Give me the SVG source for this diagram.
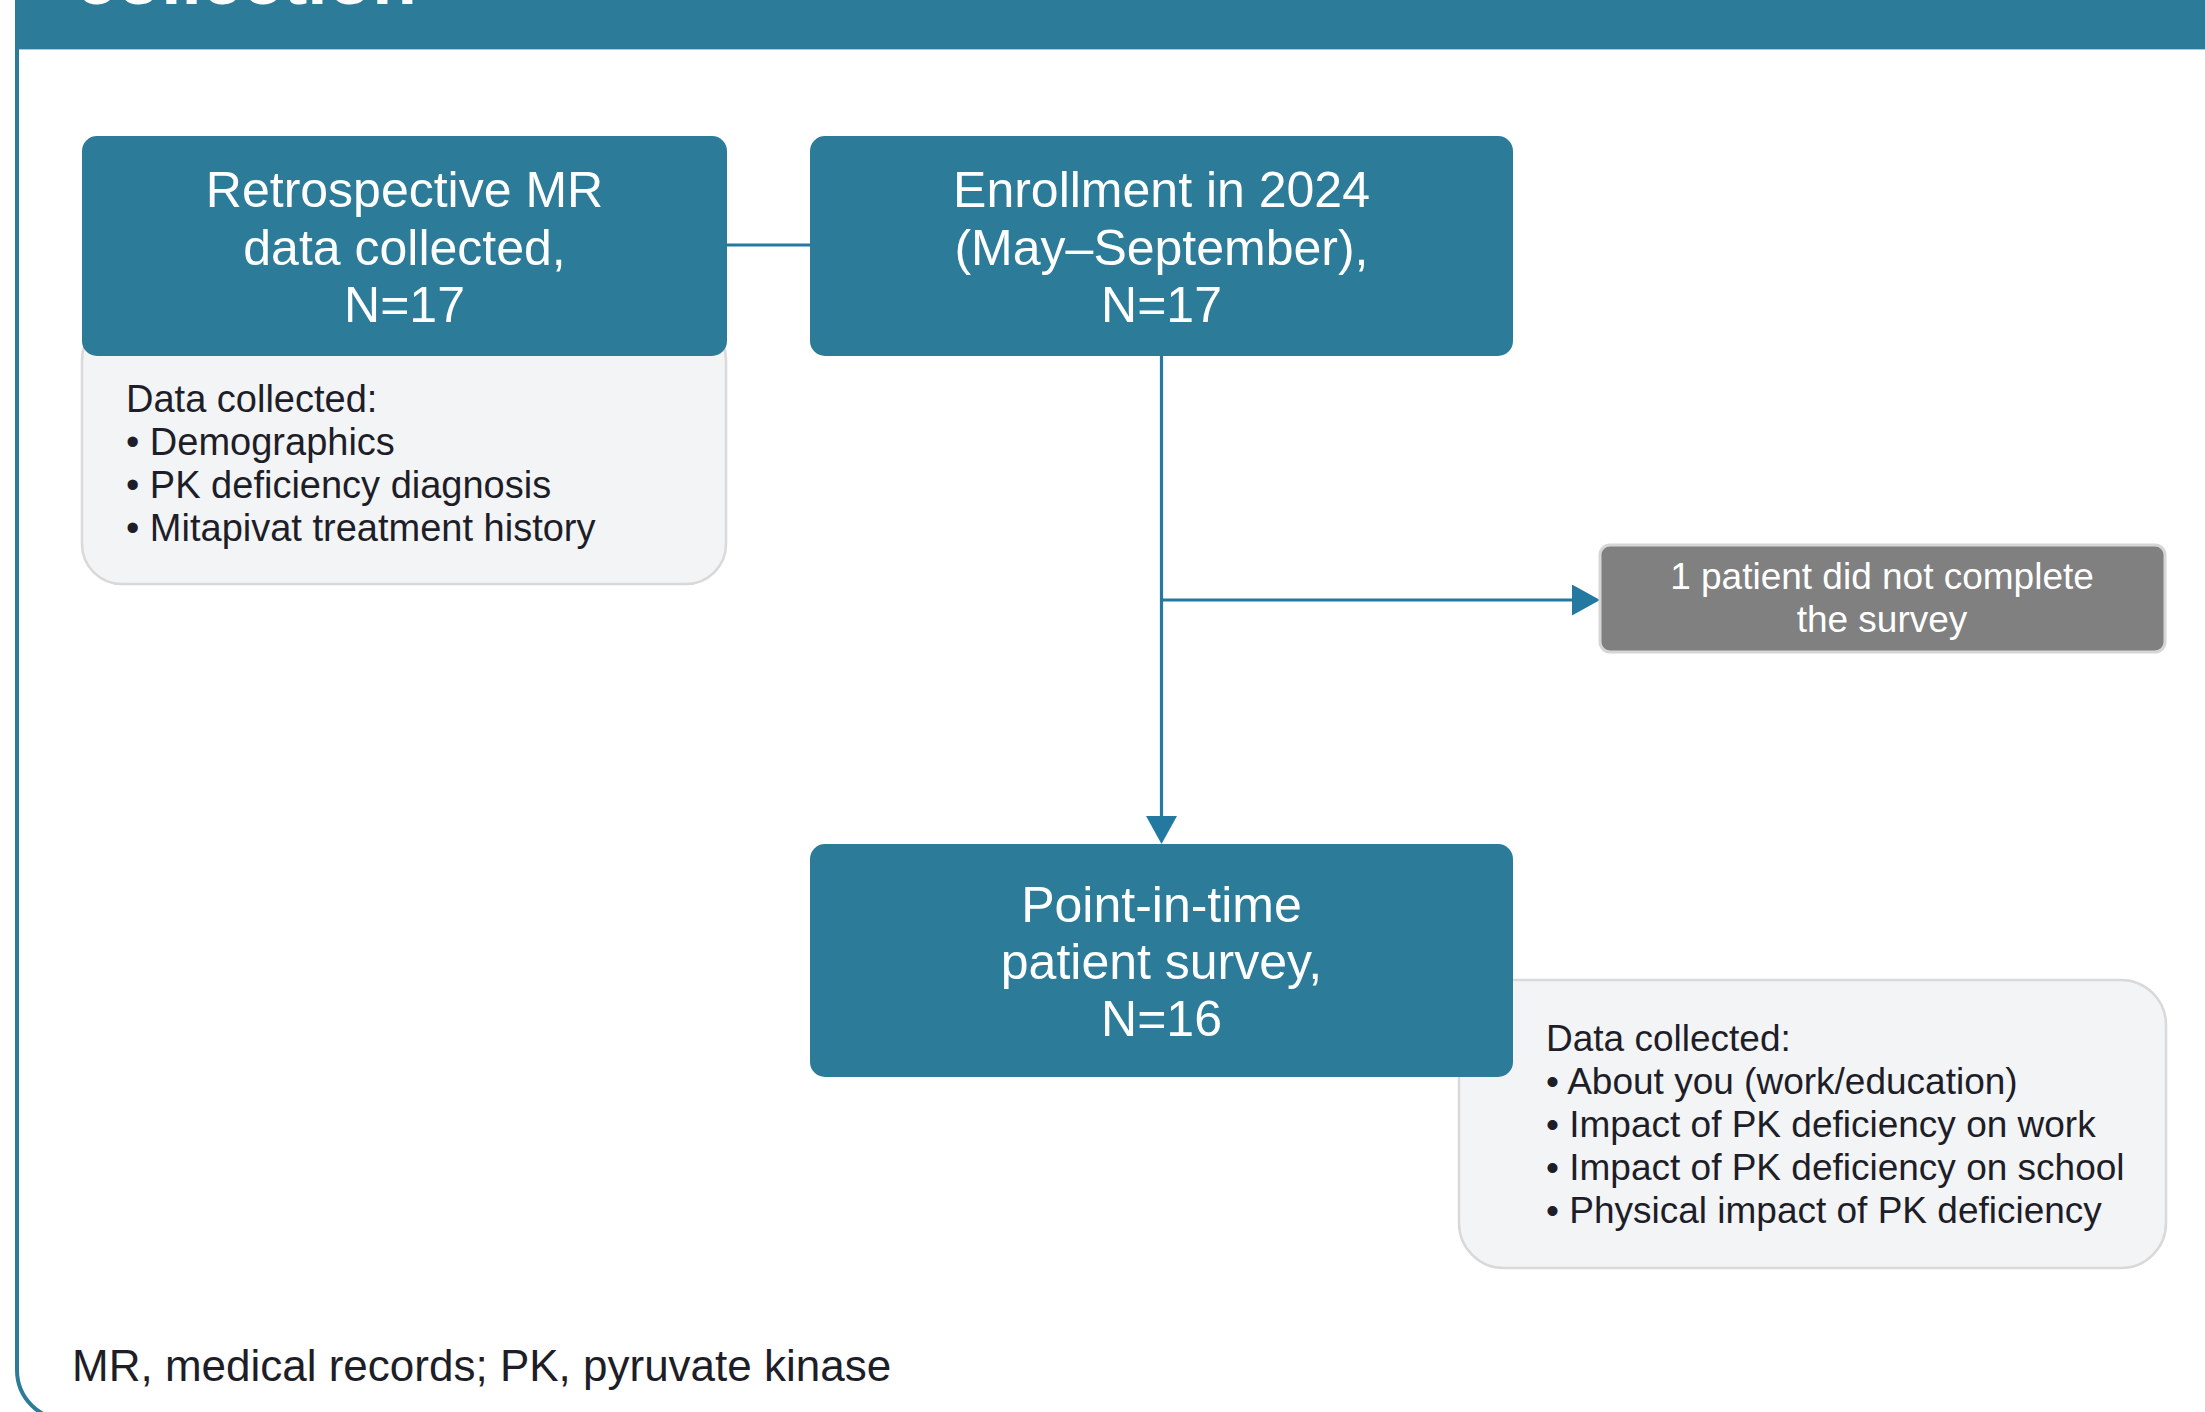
<svg xmlns="http://www.w3.org/2000/svg" width="2205" height="1412" viewBox="0 0 2205 1412">
  <style>
    .box { fill: #2b7b99; }
    .panel { fill: #f3f4f6; stroke: #d9d9d9; stroke-width: 2.5; }
    .gray { fill: #808080; stroke: #d6d6d6; stroke-width: 3; }
    .title { font-family: "Liberation Sans", Arial, sans-serif; font-size: 50px; fill: #ffffff; text-anchor: middle; }
    .gtext { font-family: "Liberation Sans", Arial, sans-serif; font-size: 37px; fill: #ffffff; text-anchor: middle; }
    .body { font-family: "Liberation Sans", Arial, sans-serif; font-size: 38px; fill: #1e1e28; }
    .body2 { font-family: "Liberation Sans", Arial, sans-serif; font-size: 37px; fill: #1e1e28; }
    .foot { font-family: "Liberation Sans", Arial, sans-serif; font-size: 44px; fill: #1e1e28; }
    .conn { stroke: #2479a0; stroke-width: 3.2; fill: none; }
  </style>
  <defs>
    <marker id="arrow" markerUnits="userSpaceOnUse" markerWidth="30" markerHeight="32" refX="0" refY="15.5" orient="auto">
      <path d="M0,0 L28,15.5 L0,31 Z" fill="#2479a0"/>
    </marker>
  </defs>

  <rect x="0" y="0" width="2205" height="1412" fill="#ffffff"/>

  <g id="frame">
    <rect x="15" y="0" width="2190" height="49" fill="#2b7b99"/>
    <line x1="19" y1="49.5" x2="2205" y2="49.5" stroke="#a9cad7" stroke-width="1"/>
    <text x="76" y="4" font-family="Liberation Sans, Arial, sans-serif" font-weight="bold" font-size="73px" fill="#ffffff">collection</text>
    <path d="M17,49 V1370 A50,50 0 0 0 67,1420" fill="none" stroke="#2b7b99" stroke-width="4"/>
  </g>

  <g id="connectors">
    <line class="conn" x1="727" y1="245" x2="810" y2="245"/>
    <line class="conn" x1="1161.5" y1="356" x2="1161.5" y2="816" marker-end="url(#arrow)"/>
    <line class="conn" x1="1160" y1="600" x2="1572" y2="600" marker-end="url(#arrow)"/>
  </g>

  <g id="retrospective-details">
    <rect class="panel" x="82" y="320" width="644" height="264" rx="40"/>
    <text class="body" x="126" y="412">Data collected:</text>
    <text class="body" x="126" y="455">• Demographics</text>
    <text class="body" x="126" y="498">• PK deficiency diagnosis</text>
    <text class="body" x="126" y="541">• Mitapivat treatment history</text>
  </g>

  <g id="retrospective">
    <rect class="box" x="82" y="136" width="645" height="220" rx="15"/>
    <text class="title" x="404.5" y="207">Retrospective MR</text>
    <text class="title" x="404.5" y="265">data collected,</text>
    <text class="title" x="404.5" y="322">N=17</text>
  </g>

  <g id="enrollment">
    <rect class="box" x="810" y="136" width="703" height="220" rx="15"/>
    <text class="title" x="1161.5" y="207">Enrollment in 2024</text>
    <text class="title" x="1161.5" y="265">(May–September),</text>
    <text class="title" x="1161.5" y="322">N=17</text>
  </g>

  <g id="did-not-complete">
    <rect class="gray" x="1600" y="545" width="565" height="107" rx="10"/>
    <text class="gtext" x="1882" y="589">1 patient did not complete</text>
    <text class="gtext" x="1882" y="632">the survey</text>
  </g>

  <g id="survey-details">
    <rect class="panel" x="1459" y="980" width="707" height="288" rx="45"/>
    <text class="body2" x="1546" y="1051">Data collected:</text>
    <text class="body2" x="1546" y="1094">• About you (work/education)</text>
    <text class="body2" x="1546" y="1137">• Impact of PK deficiency on work</text>
    <text class="body2" x="1546" y="1180">• Impact of PK deficiency on school</text>
    <text class="body2" x="1546" y="1223">• Physical impact of PK deficiency</text>
  </g>

  <g id="survey">
    <rect class="box" x="810" y="844" width="703" height="233" rx="15"/>
    <text class="title" x="1161.5" y="922">Point-in-time</text>
    <text class="title" x="1161.5" y="979">patient survey,</text>
    <text class="title" x="1161.5" y="1036">N=16</text>
  </g>

  <g id="footnote">
    <text class="foot" x="72" y="1381">MR, medical records; PK, pyruvate kinase</text>
  </g>
</svg>
